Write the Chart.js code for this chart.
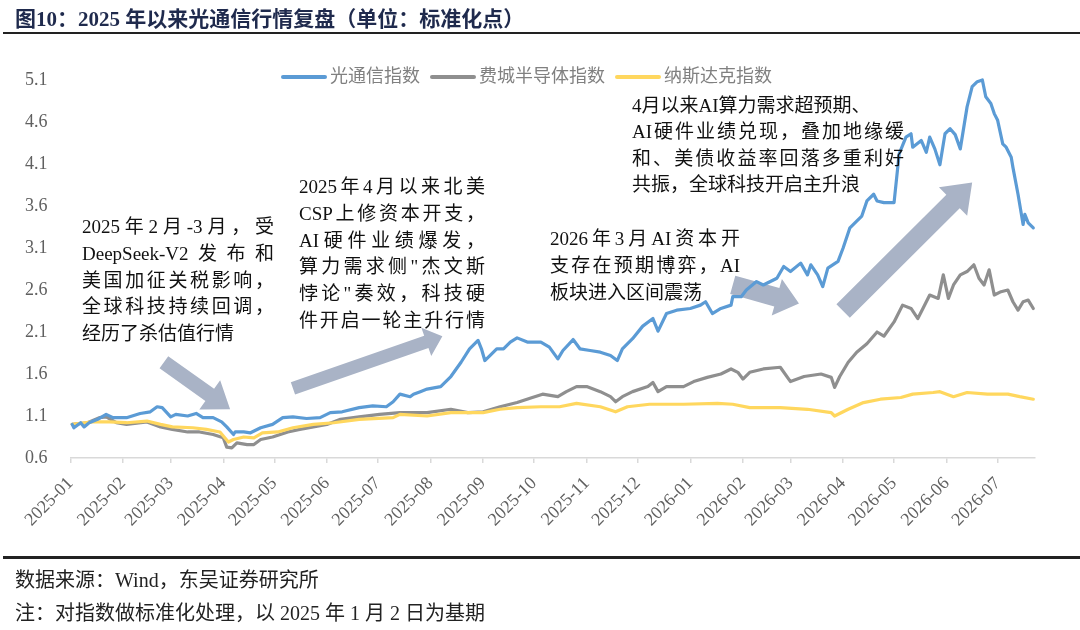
<!DOCTYPE html>
<html>
<head>
<meta charset="utf-8">
<script src="https://cdn.jsdelivr.net/npm/chart.js@4"></script>
<style>
  html, body { margin: 0; padding: 0; background: #ffffff; }
  body { width: 1080px; height: 630px; position: relative; overflow: hidden;
         font-family: 'Liberation Serif', 'Noto Sans CJK SC', serif; }
  #c { position: absolute; left: 0; top: 0; }
  .title { position: absolute; left: 15px; top: 2px; font-size: 21px; font-weight: bold; color: #1f2a4d; white-space: nowrap; }
  .rule { position: absolute; left: 3px; width: 1077px; background: #222; }
  .note { position: absolute; left: 15px; font-size: 20px; color: #222; white-space: nowrap; }
  .ann { position: absolute; font-size: 19px; color: #111; line-height: 26.8px; z-index: 2; }
  .ann div { white-space: nowrap; }
  .ann div.j { text-align: justify; text-align-last: justify; white-space: normal; }
</style>
</head>
<body>
<canvas id="c" width="1080" height="630"></canvas>
<div class="title">图10：2025 年以来光通信行情复盘（单位：标准化点）</div>
<div class="rule" style="top:32px;height:2px;"></div>
<div class="rule" style="top:556px;height:3px;"></div>
<div class="note" style="top:564px;">数据来源：Wind，东吴证券研究所</div>
<div class="note" style="top:597px;">注：对指数做标准化处理，以 2025 年 1 月 2 日为基期</div>

<div class="ann" style="left:82px;top:214px;width:192px;">
  <div class="j">2025年2月-3月，受</div>
  <div class="j">DeepSeek-V2发布和</div>
  <div class="j">美国加征关税影响，</div>
  <div class="j">全球科技持续回调，</div>
  <div>经历了杀估值行情</div>
</div>
<div class="ann" style="left:299px;top:174px;width:186px;">
  <div class="j">2025年4月以来北美</div>
  <div class="j">CSP上修资本开支，</div>
  <div class="j">AI硬件业绩爆发，</div>
  <div class="j">算力需求侧"杰文斯</div>
  <div class="j">悖论"奏效，科技硬</div>
  <div class="j">件开启一轮主升行情</div>
</div>
<div class="ann" style="left:550px;top:226px;width:190px;">
  <div class="j">2026年3月AI资本开</div>
  <div class="j">支存在预期博弈，AI</div>
  <div>板块进入区间震荡</div>
</div>
<div class="ann" style="left:632px;top:93px;width:272px;line-height:26.3px;">
  <div>4月以来AI算力需求超预期、</div>
  <div class="j">AI硬件业绩兑现，叠加地缘缓</div>
  <div class="j">和、美债收益率回落多重利好</div>
  <div>共振，全球科技开启主升浪</div>
</div>

<script>
// ---------------- data ----------------
const seriesNames = ['光通信指数', '费城半导体指数', '纳斯达克指数'];

const opticalDates = ["2025-01-02","2025-01-03","2025-01-07","2025-01-09","2025-01-12","2025-01-17","2025-01-22","2025-01-26","2025-02-03","2025-02-11","2025-02-17","2025-02-21","2025-02-24","2025-03-01","2025-03-04","2025-03-11","2025-03-16","2025-03-20","2025-03-26","2025-03-31","2025-04-03","2025-04-07","2025-04-08","2025-04-13","2025-04-17","2025-04-23","2025-04-30","2025-05-06","2025-05-12","2025-05-20","2025-05-28","2025-06-03","2025-06-10","2025-06-20","2025-06-28","2025-07-06","2025-07-10","2025-07-14","2025-07-20","2025-07-22","2025-07-26","2025-07-30","2025-08-07","2025-08-13","2025-08-19","2025-08-24","2025-08-29","2025-08-31","2025-09-02","2025-09-05","2025-09-09","2025-09-13","2025-09-17","2025-09-21","2025-09-27","2025-10-05","2025-10-10","2025-10-15","2025-10-18","2025-10-24","2025-10-28","2025-11-03","2025-11-09","2025-11-15","2025-11-19","2025-11-22","2025-11-28","2025-12-04","2025-12-10","2025-12-13","2025-12-18","2025-12-24","2026-01-01","2026-01-07","2026-01-10","2026-01-14","2026-01-19","2026-01-25","2026-01-26","2026-01-31","2026-02-03","2026-02-09","2026-02-13","2026-02-21","2026-02-25","2026-03-01","2026-03-07","2026-03-11","2026-03-13","2026-03-17","2026-03-20","2026-03-23","2026-03-29","2026-04-01","2026-04-05","2026-04-09","2026-04-12","2026-04-15","2026-04-19","2026-04-21","2026-04-25","2026-05-01","2026-05-04","2026-05-08","2026-05-11","2026-05-12","2026-05-17","2026-05-20","2026-05-22","2026-05-25","2026-05-28","2026-05-31","2026-06-03","2026-06-06","2026-06-09","2026-06-13","2026-06-16","2026-06-19","2026-06-22","2026-06-24","2026-06-27","2026-06-29","2026-07-01","2026-07-04","2026-07-06","2026-07-09","2026-07-10","2026-07-13","2026-07-16","2026-07-17","2026-07-19","2026-07-22"];
const opticalValues = [1.00,0.96,1.02,0.97,1.02,1.06,1.12,1.08,1.08,1.13,1.15,1.21,1.20,1.09,1.12,1.10,1.13,1.08,1.08,1.03,0.97,0.88,0.91,0.91,0.90,0.96,1.00,1.08,1.09,1.07,1.08,1.14,1.15,1.20,1.22,1.21,1.27,1.36,1.33,1.36,1.39,1.42,1.45,1.57,1.74,1.90,2.00,1.90,1.76,1.82,1.90,1.90,1.98,2.03,1.98,1.98,1.92,1.78,1.88,2.01,1.90,1.88,1.86,1.82,1.76,1.90,2.02,2.17,2.26,2.11,2.32,2.36,2.38,2.42,2.46,2.32,2.38,2.42,2.52,2.52,2.60,2.70,2.66,2.74,2.88,2.82,2.92,2.78,2.90,2.78,2.64,2.86,2.94,3.10,3.34,3.42,3.48,3.66,3.74,3.66,3.64,3.64,4.22,4.42,4.46,4.30,4.38,4.24,4.42,4.28,4.09,4.46,4.52,4.45,4.28,4.78,5.02,5.08,5.10,4.90,4.82,4.70,4.62,4.34,4.30,4.18,4.06,3.74,3.38,3.50,3.40,3.34];

const soxDates = ["2025-01-02","2025-01-11","2025-01-18","2025-01-22","2025-01-28","2025-02-03","2025-02-15","2025-02-23","2025-03-02","2025-03-11","2025-03-18","2025-03-26","2025-04-01","2025-04-03","2025-04-06","2025-04-09","2025-04-15","2025-04-19","2025-04-23","2025-04-30","2025-05-09","2025-05-16","2025-05-24","2025-06-01","2025-06-09","2025-06-20","2025-07-02","2025-07-14","2025-07-30","2025-08-13","2025-08-23","2025-09-01","2025-09-11","2025-09-21","2025-09-30","2025-10-06","2025-10-15","2025-10-20","2025-10-26","2025-11-01","2025-11-09","2025-11-15","2025-11-18","2025-11-22","2025-11-28","2025-12-07","2025-12-10","2025-12-13","2025-12-18","2025-12-28","2026-01-03","2026-01-11","2026-01-19","2026-01-25","2026-01-29","2026-02-01","2026-02-05","2026-02-13","2026-02-23","2026-03-01","2026-03-09","2026-03-19","2026-03-25","2026-03-27","2026-03-30","2026-04-04","2026-04-09","2026-04-15","2026-04-21","2026-04-25","2026-05-01","2026-05-06","2026-05-11","2026-05-15","2026-05-18","2026-05-22","2026-05-27","2026-05-30","2026-06-02","2026-06-05","2026-06-09","2026-06-13","2026-06-17","2026-06-20","2026-06-23","2026-06-26","2026-06-29","2026-07-03","2026-07-07","2026-07-10","2026-07-13","2026-07-16","2026-07-19","2026-07-22"];
const soxValues = [1.00,1.02,1.08,1.09,1.02,1.00,1.03,0.97,0.94,0.91,0.91,0.88,0.84,0.73,0.72,0.78,0.76,0.76,0.82,0.85,0.91,0.94,0.97,1.00,1.06,1.09,1.12,1.14,1.14,1.18,1.14,1.15,1.21,1.26,1.32,1.36,1.33,1.39,1.45,1.45,1.39,1.33,1.27,1.33,1.39,1.45,1.50,1.39,1.45,1.45,1.51,1.56,1.60,1.66,1.62,1.54,1.62,1.66,1.68,1.51,1.57,1.60,1.56,1.44,1.57,1.74,1.86,1.96,2.10,2.05,2.22,2.42,2.38,2.26,2.38,2.54,2.50,2.78,2.50,2.66,2.78,2.82,2.90,2.74,2.66,2.84,2.54,2.58,2.60,2.46,2.36,2.46,2.48,2.38];

const nasdaqDates = ["2025-01-02","2025-01-14","2025-01-24","2025-02-03","2025-02-15","2025-02-23","2025-03-02","2025-03-14","2025-03-22","2025-03-30","2025-04-04","2025-04-07","2025-04-13","2025-04-19","2025-04-24","2025-05-03","2025-05-12","2025-05-24","2025-06-05","2025-06-20","2025-07-10","2025-07-14","2025-07-30","2025-08-13","2025-09-01","2025-09-11","2025-09-21","2025-10-05","2025-10-16","2025-10-26","2025-11-09","2025-11-18","2025-11-25","2025-12-08","2025-12-28","2026-01-17","2026-01-26","2026-02-05","2026-02-23","2026-03-11","2026-03-25","2026-03-27","2026-04-04","2026-04-13","2026-04-23","2026-05-05","2026-05-12","2026-05-24","2026-05-28","2026-06-05","2026-06-13","2026-06-25","2026-07-07","2026-07-14","2026-07-22"];
const nasdaqValues = [1.00,1.03,1.03,1.02,1.04,1.00,0.97,0.96,0.94,0.91,0.79,0.82,0.85,0.84,0.90,0.91,0.96,1.00,1.02,1.06,1.08,1.12,1.10,1.14,1.14,1.18,1.20,1.21,1.21,1.25,1.21,1.15,1.21,1.24,1.24,1.25,1.24,1.20,1.20,1.18,1.14,1.10,1.18,1.26,1.30,1.32,1.36,1.38,1.39,1.33,1.38,1.36,1.36,1.33,1.30];

const xTickLabels = ["2025-01","2025-02","2025-03","2025-04","2025-05","2025-06","2025-07","2025-08","2025-09","2025-10","2025-11","2025-12","2026-01","2026-02","2026-03","2026-04","2026-05","2026-06","2026-07"];
const yTickValues = [0.6, 1.1, 1.6, 2.1, 2.6, 3.1, 3.6, 4.1, 4.6, 5.1];
const axisStartDate = "2025-01-01";
const axisEndDate = "2026-07-23";

// annotation arrows: [date, value] of tail and tip
const arrowTails = [["2025-02-25", 1.74], ["2025-05-12", 1.43], ["2026-01-26", 2.66], ["2026-04-01", 2.35]];
const arrowTips  = [["2025-04-05", 1.18], ["2025-08-08", 2.05], ["2026-03-06", 2.44], ["2026-06-16", 3.88]];

// ---------------- helpers ----------------
function dayOf(s) {
  const [y, m, d] = s.split('-').map(Number);
  const [y0, m0, d0] = axisStartDate.split('-').map(Number);
  return (Date.UTC(y, m - 1, d) - Date.UTC(y0, m0 - 1, d0)) / 86400000;
}
function pts(dates, vals) {
  const n = Math.min(dates.length, vals.length);
  const out = [];
  for (let i = 0; i < n; i++) out.push({ x: dayOf(dates[i]), y: vals[i] });
  return out;
}
const xTickDays = xTickLabels.map(l => dayOf(l + '-01'));

const FONT = "'Liberation Serif', 'Noto Sans CJK SC', serif";
const colors = ['#5b9bd5', '#8f8f8f', '#ffd75e'];

// arrows drawn behind lines
const arrowPlugin = {
  id: 'arrows',
  beforeDatasetsDraw(chart) {
    const { ctx, scales: { x, y } } = chart;
    const dims = [[15, 36, 25], [13, 30, 17], [19, 38, 23], [19, 40, 27]];
    ctx.save();
    ctx.fillStyle = '#a9b3c6';
    arrowTails.forEach((t, i) => {
      const x1 = x.getPixelForValue(dayOf(t[0])), y1 = y.getPixelForValue(t[1]);
      const x2 = x.getPixelForValue(dayOf(arrowTips[i][0])), y2 = y.getPixelForValue(arrowTips[i][1]);
      const [sw, hw, hl] = dims[i];
      const dx = x2 - x1, dy = y2 - y1, L = Math.hypot(dx, dy);
      const ux = dx / L, uy = dy / L, px = -uy, py = ux;
      const bx = x2 - ux * hl, by = y2 - uy * hl;
      ctx.beginPath();
      ctx.moveTo(x1 + px * sw / 2, y1 + py * sw / 2);
      ctx.lineTo(bx + px * sw / 2, by + py * sw / 2);
      ctx.lineTo(bx + px * hw / 2, by + py * hw / 2);
      ctx.lineTo(x2, y2);
      ctx.lineTo(bx - px * hw / 2, by - py * hw / 2);
      ctx.lineTo(bx - px * sw / 2, by - py * sw / 2);
      ctx.lineTo(x1 - px * sw / 2, y1 - py * sw / 2);
      ctx.closePath();
      ctx.fill();
    });
    ctx.restore();
  }
};

// legend drawn inside plot, top
const legendPlugin = {
  id: 'inlineLegend',
  afterDatasetsDraw(chart) {
    const ctx = chart.ctx;
    ctx.save();
    ctx.font = '18px ' + FONT;
    ctx.textBaseline = 'middle';
    let xPos = 283;
    const yPos = 77;
    chart.data.datasets.forEach((ds) => {
      ctx.strokeStyle = ds.borderColor;
      ctx.lineWidth = 4;
      ctx.lineCap = 'round';
      ctx.beginPath();
      ctx.moveTo(xPos, yPos);
      ctx.lineTo(xPos + 42, yPos);
      ctx.stroke();
      xPos += 47;
      ctx.fillStyle = '#808080';
      ctx.fillText(ds.label, xPos, yPos);
      xPos += ctx.measureText(ds.label).width + 12;
    });
    ctx.restore();
  }
};

const ctx = document.getElementById('c').getContext('2d');
new Chart(ctx, {
  type: 'line',
  data: {
    datasets: [
      { label: seriesNames[0], data: pts(opticalDates, opticalValues), borderColor: colors[0], order: 0 },
      { label: seriesNames[1], data: pts(soxDates, soxValues), borderColor: colors[1], order: 2 },
      { label: seriesNames[2], data: pts(nasdaqDates, nasdaqValues), borderColor: colors[2], order: 1 }
    ]
  },
  options: {
    responsive: false,
    devicePixelRatio: 1,
    animation: false,
    clip: 6,
    elements: {
      line: { borderWidth: 3.2, tension: 0, borderJoinStyle: 'round', borderCapStyle: 'round', fill: false },
      point: { radius: 0, hoverRadius: 0 }
    },
    layout: { padding: { top: 80, right: 45, bottom: 0, left: 0 } },
    plugins: { legend: { display: false }, tooltip: { enabled: false } },
    scales: {
      x: {
        type: 'linear',
        min: dayOf(axisStartDate),
        max: dayOf(axisEndDate),
        afterBuildTicks: (s) => { s.ticks = xTickDays.map(v => ({ value: v })); },
        afterFit: (s) => { s.height = 172; },
        ticks: {
          autoSkip: false, maxRotation: 45, minRotation: 45,
          padding: 10,
          color: '#606060',
          font: { family: FONT, size: 18 },
          callback: (v, i) => xTickLabels[i]
        },
        grid: { display: true, drawOnChartArea: false, drawTicks: true, tickLength: 5, color: '#d9d9d9', lineWidth: 1.5 },
        border: { display: true, color: '#d9d9d9', width: 1.5 }
      },
      y: {
        type: 'linear',
        min: yTickValues[0],
        max: yTickValues[yTickValues.length - 1],
        afterBuildTicks: (s) => { s.ticks = yTickValues.map(v => ({ value: v })); },
        afterFit: (s) => { s.width = 70.5; },
        ticks: {
          padding: 23,
          color: '#606060',
          font: { family: FONT, size: 18 },
          callback: (v) => Number(v).toFixed(1)
        },
        grid: { display: false, drawTicks: false },
        border: { display: false }
      }
    }
  },
  plugins: [arrowPlugin, legendPlugin]
});
</script>
</body>
</html>
